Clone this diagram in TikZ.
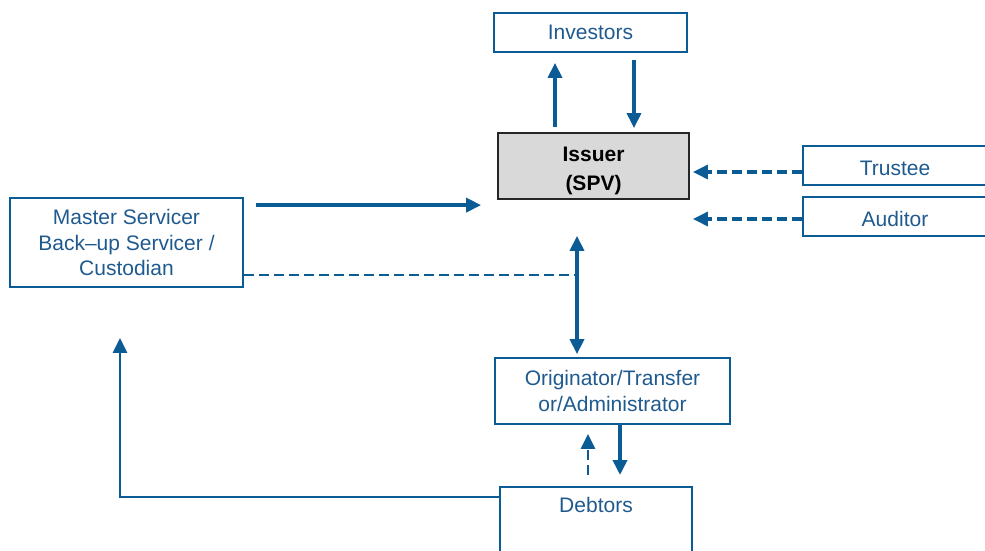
\documentclass[tikz,border=0pt]{standalone}
\usepackage{fontspec}
\setmainfont{Liberation Sans}
\usetikzlibrary{arrows.meta}
\definecolor{sblue}{HTML}{0B5B95}
\definecolor{stext}{HTML}{1F5A8F}
\tikzset{
  >={Triangle[length=15pt,width=14pt]},
  box/.style={draw=sblue,line width=1.8pt,text=stext,align=center,
    font=\fontsize{21}{25.5}\selectfont,inner sep=0pt},
  spv/.style={box,draw=black!85,fill=black!15,text=black,
    font=\fontsize{21}{29}\selectfont\bfseries},
  flow/.style={draw=sblue,line width=3.6pt,->},
  flowdash/.style={flow,line width=3.2pt,dash pattern=on 10pt off 5pt},
}
\begin{document}
\begin{tikzpicture}[x=1pt,y=-1pt]
  \useasboundingbox (0,0) rectangle (985,550);
  \node[box,minimum width=193pt,minimum height=39pt] (inv) at (590.5,32.5) {Investors};
  \node[spv,minimum width=191pt,minimum height=66pt,text height=53pt,text depth=5pt] (iss) at (593.5,166) {Issuer\\(SPV)};
  \node[box,minimum width=184pt,minimum height=39pt,text height=20pt,text depth=1pt] (tru) at (895,165.5) {Trustee};
  \node[box,minimum width=184pt,minimum height=39pt,text height=20pt,text depth=1pt] (aud) at (895,216.5) {Auditor};
  \node[box,minimum width=233pt,minimum height=89pt] (mst) at (126.5,242.5)
    {Master Servicer\\Back–up Servicer /\\Custodian};
  \node[box,minimum width=235pt,minimum height=66pt] (org) at (612.5,391)
    {Originator/Transfer\\or/Administrator};
  \node[box,minimum width=192pt,text height=26pt,text depth=48pt,anchor=north] (deb)
    at (596,486) {Debtors};
  \coordinate (vx) at ([xshift=-35.5pt]org.north);
  \draw[flow,shorten <=5pt,shorten >=10pt] ([xshift=-38.5pt]iss.north) -- ([xshift=-38.5pt]iss.north |- inv.south);
  \draw[flow,line width=3.2pt,shorten <=7pt,shorten >=4pt] ([xshift=40.5pt]iss.north |- inv.south) -- ([xshift=40.5pt]iss.north);
  \draw[flowdash,shorten >=3pt] ([yshift=-6.5pt]tru.west) -- ([yshift=-6.5pt]tru.west -| iss.east);
  \draw[flowdash,shorten >=3pt] ([yshift=-2.5pt]aud.west) -- ([yshift=-2.5pt]aud.west -| iss.east);
  \draw[flow,shorten <=12pt,shorten >=16pt] ([yshift=-8pt]mst.north east) -- ([yshift=-8pt]mst.north east -| iss.west);
  \draw[flow,<->,shorten <=3pt,shorten >=36pt] (vx) -- (vx |- iss.south);
  \draw[flowdash,-,line width=2.6pt] ([yshift=-32.5pt]mst.east) -- ([yshift=-32.5pt]mst.east -| vx);
  \draw[flow,shorten >=11pt] ([xshift=7.5pt]org.south) -- ([xshift=7.5pt]org.south |- deb.north);
  \draw[flowdash,line width=2.8pt,shorten <=11pt,shorten >=9pt] ([xshift=-8pt]deb.north) -- ([xshift=-8pt]deb.north |- org.south);
  \draw[flow,line width=2.6pt,shorten >=50pt] ([yshift=-11pt]deb.north west) -| ([xshift=-6.5pt]mst.south);
\end{tikzpicture}
\end{document}
